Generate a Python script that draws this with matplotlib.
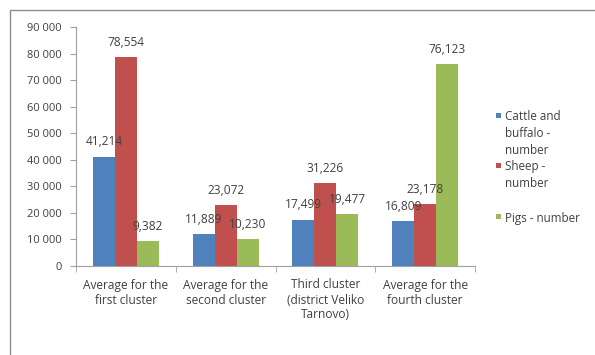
import matplotlib
matplotlib.use("Agg")
import matplotlib.pyplot as plt
import numpy as np
from matplotlib.patches import Rectangle
from matplotlib.ticker import FuncFormatter, FixedLocator

categories = ["Average for the\nfirst cluster", "Average for the\nsecond cluster",
              "Third cluster\n(district Veliko\nTarnovo)", "Average for the\nfourth cluster"]
series_names = ["Cattle and\nbuffalo -\nnumber", "Sheep -\nnumber", "Pigs - number"]
cattle = [41214, 11889, 17499, 16809]
sheep = [78554, 23072, 31226, 23178]
pigs = [9382, 10230, 19477, 76123]
yticks = list(range(0, 90001, 10000))

colors = ["#4F81BD", "#C0504D", "#9BBB59"]
text_color = "#404040"
plt.rcParams["font.family"] = ["Open Sans", "DejaVu Sans"]

W, H = 595, 355
fig = plt.figure(figsize=(W / 100, H / 100), dpi=100)

# outer chart-area border
fig.patches.append(Rectangle((10 / W, -0.1), 1.1, 1 - 10 / H + 0.1,
                             transform=fig.transFigure, fill=False,
                             edgecolor="#8c8c8c", linewidth=1.0))

ax = fig.add_axes([76 / W, 1 - 266 / H, 399 / W, 239 / H])

x = np.arange(len(categories))
w = 0.22
for i, (vals, c) in enumerate(zip([cattle, sheep, pigs], colors)):
    pos = x + (i - 1) * w
    ax.bar(pos, vals, width=w, color=c)
    for px, v in zip(pos, vals):
        ax.annotate(f"{v:,}", (px, v), xytext=(0, 10.5), textcoords="offset points",
                    ha="center", va="center", fontsize=8.6, color=text_color)

ax.set_xlim(-0.5, len(categories) - 0.5)
ax.set_ylim(0, 90000)
ax.yaxis.set_major_locator(FixedLocator(yticks))
ax.yaxis.set_major_formatter(FuncFormatter(lambda v, p: f"{int(v):,}".replace(",", " ")))
ax.set_xticks(x)
ax.set_xticklabels(categories, fontsize=8.6, color=text_color, linespacing=1.2)
ax.xaxis.set_minor_locator(FixedLocator(np.arange(-0.5, len(categories), 1.0)))
ax.tick_params(axis="x", which="major", length=0, pad=9)
ax.tick_params(axis="x", which="minor", length=4, color="#a0a0a0", direction="out")
ax.tick_params(axis="y", length=4, color="#a0a0a0", labelsize=8, labelcolor=text_color, pad=6)
for s in ["top", "right"]:
    ax.spines[s].set_visible(False)
for s in ["left", "bottom"]:
    ax.spines[s].set_color("#a0a0a0")

# legend: square key beside the first line of each entry
legend_rows = [115, 165, 217]
for name, c, yy in zip(series_names, colors, legend_rows):
    fig.patches.append(Rectangle((496 / W, 1 - (yy + 2.5) / H), 5 / W, 5 / H,
                                 transform=fig.transFigure, facecolor=c, edgecolor="none"))
    fig.text(505 / W, 1 - (yy - 5) / H, name, ha="left", va="top",
             fontsize=8.4, color=text_color, linespacing=1.42)

fig.savefig("out.png", dpi=100)
